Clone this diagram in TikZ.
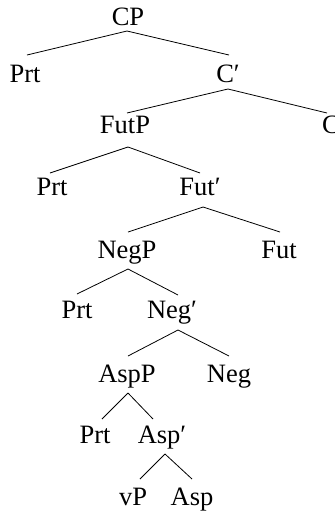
\documentclass[tikz,border=0pt]{standalone}
\usepackage{fontspec}
\setmainfont{Liberation Serif}
\begin{document}
\begin{tikzpicture}[x=1pt,y=-1pt,
  lab/.style={anchor=base,inner sep=0pt,font=\fontsize{26.5}{32}\selectfont},
  br/.style={line width=0.8pt}]
\useasboundingbox (0,0) rectangle (335,512);
% nodes (x = text centre, y = baseline)
\node[lab] (cp)   at (128,25)  {CP};
\node[lab] (prt1) at (25,82)   {Prt};
\node[lab] (cb)   at (228,82)  {C′};
\node[lab] (futp) at (125,133) {FutP};
\node[lab] (c)    at (331,133) {C};
\node[lab] (prt2) at (52,195)  {Prt};
\node[lab] (futb) at (200,195) {Fut′};
\node[lab] (negp) at (127,258) {NegP};
\node[lab] (fut)  at (279,258) {Fut};
\node[lab] (prt3) at (77,318)  {Prt};
\node[lab] (negb) at (172,318) {Neg′};
\node[lab] (aspp) at (127,382) {AspP};
\node[lab] (neg)  at (229,382) {Neg};
\node[lab] (prt4) at (95,443)  {Prt};
\node[lab] (aspb) at (162,443) {Asp′};
\node[lab] (vp)   at (133,505) {vP};
\node[lab] (asp)  at (192,505) {Asp};
% branches
\draw[br] ([shift={(-1,6)}]cp.base) -- ([shift={(2,-27)}]prt1.base);
\draw[br] ([shift={(-1,6)}]cp.base) -- ([shift={(1,-27)}]cb.base);
\draw[br] ([shift={(0,7)}]cb.base) -- ([shift={(2,-20)}]futp.base);
\draw[br] ([shift={(0,7)}]cb.base) -- ([shift={(-4,-20)}]c.base);
\draw[br] ([shift={(3,14)}]futp.base) -- ([shift={(-2,-22)}]prt2.base);
\draw[br] ([shift={(3,14)}]futp.base) -- ([shift={(0,-22)}]futb.base);
\draw[br] ([shift={(3,12)}]futb.base) -- ([shift={(1,-26)}]negp.base);
\draw[br] ([shift={(3,12)}]futb.base) -- ([shift={(1,-26)}]fut.base);
\draw[br] ([shift={(1,11)}]negp.base) -- ([shift={(0,-24)}]prt3.base);
\draw[br] ([shift={(1,11)}]negp.base) -- ([shift={(6,-23)}]negb.base);
\draw[br] ([shift={(6,12)}]negb.base) -- ([shift={(1,-26)}]aspp.base);
\draw[br] ([shift={(6,12)}]negb.base) -- ([shift={(0,-26)}]neg.base);
\draw[br] ([shift={(1,11)}]aspp.base) -- ([shift={(7,-24)}]prt4.base);
\draw[br] ([shift={(1,11)}]aspp.base) -- ([shift={(-9,-24)}]aspb.base);
\draw[br] ([shift={(3,11)}]aspb.base) -- ([shift={(7,-26)}]vp.base);
\draw[br] ([shift={(3,11)}]aspb.base) -- ([shift={(0,-26)}]asp.base);
\end{tikzpicture}
\end{document}
